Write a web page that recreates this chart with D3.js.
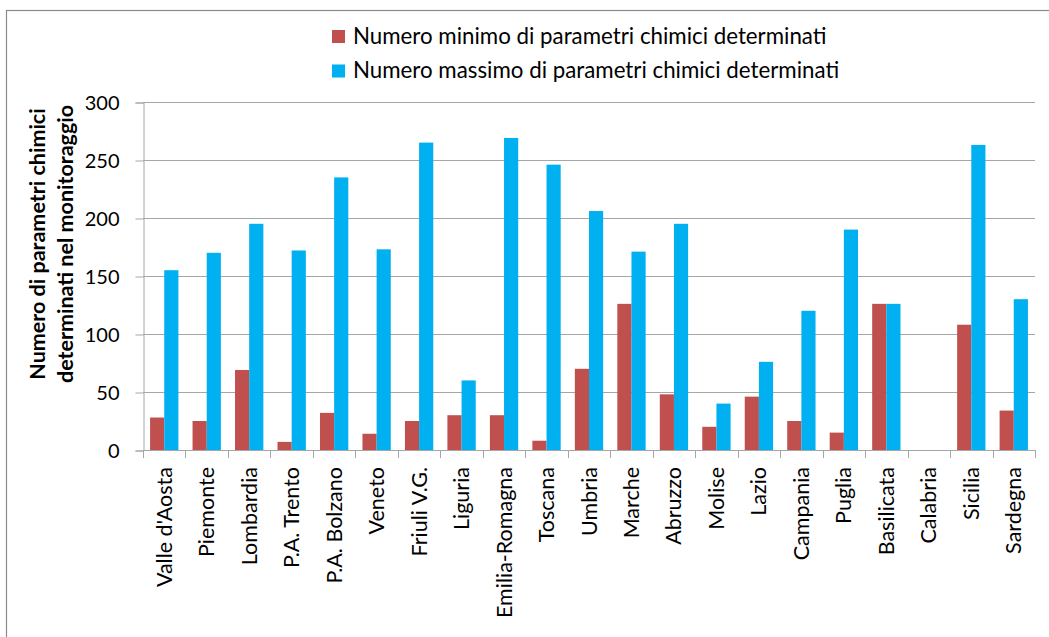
<!DOCTYPE html>
<html>
<head>
<meta charset="utf-8">
<script src="https://cdn.jsdelivr.net/npm/d3@7"></script>
<style>
  body { margin: 0; background: #fff; }
  text { font-family: Lato, "Open Sans", sans-serif; fill: #000; }
</style>
</head>
<body>
<script>
// regioni
var regioni = ["Valle d'Aosta", "Piemonte", "Lombardia", "P.A. Trento", "P.A. Bolzano", "Veneto",
  "Friuli V.G.", "Liguria", "Emilia-Romagna", "Toscana", "Umbria", "Marche", "Abruzzo", "Molise",
  "Lazio", "Campania", "Puglia", "Basilicata", "Calabria", "Sicilia", "Sardegna"];

var minimo = [28, 25, 69, 7, 32, 14, 25, 30, 30, 8, 70, 126, 48, 20, 46, 25, 15, 126, 0, 108, 34];
var massimo = [155, 170, 195, 172, 235, 173, 265, 60, 269, 246, 206, 171, 195, 40, 76, 120, 190, 126, 0, 263, 130];

var serie = ["Numero minimo di parametri chimici determinati", "Numero massimo di parametri chimici determinati"];
var colori = ["#C0504D", "#00B0F0"];
var yTicks = [0, 50, 100, 150, 200, 250, 300];

var W = 1049, H = 637;
var plot = { left: 143, right: 1035, top: 102, bottom: 450 };

var svg = d3.select("body").append("svg")
  .attr("width", W)
  .attr("height", H);

svg.append("rect").attr("width", W).attr("height", H).attr("fill", "#fff");

// cornice del grafico
svg.append("rect")
  .attr("x", 6.5).attr("y", 10.5)
  .attr("width", W + 20).attr("height", H + 20)
  .attr("fill", "none")
  .attr("stroke", "#8c8c8c")
  .attr("stroke-width", 1.2);

var x = d3.scaleBand()
  .domain(regioni)
  .range([plot.left, plot.right])
  .paddingInner(1 / 3)
  .paddingOuter(1 / 6);

var x1 = d3.scaleBand()
  .domain([0, 1])
  .range([0, x.bandwidth()]);

var y = d3.scaleLinear()
  .domain([0, 300])
  .range([plot.bottom, plot.top]);

// griglia
svg.append("g")
  .selectAll("line")
  .data(yTicks.slice(1))
  .enter()
    .append("line")
    .attr("x1", plot.left).attr("x2", plot.right)
    .attr("y1", d => Math.round(y(d)) + 0.5)
    .attr("y2", d => Math.round(y(d)) + 0.5)
    .attr("stroke", "#a6a6a6")
    .attr("stroke-width", 1);

// asse y
var yAxis = svg.append("g")
  .attr("transform", "translate(" + (plot.left + 0.5) + ",0.5)")
  .call(d3.axisLeft(y).tickValues(yTicks).tickSize(8).tickPadding(16));

yAxis.select(".domain").attr("stroke", "#a6a6a6");
yAxis.selectAll(".tick line").attr("stroke", "#a6a6a6");
yAxis.selectAll(".tick text")
  .attr("font-size", 20)
  .attr("font-family", "Lato, sans-serif")
  .attr("dy", "0.35em");

// barre
var gruppi = svg.append("g")
  .selectAll("g")
  .data(regioni)
  .enter()
    .append("g")
    .attr("transform", d => "translate(" + x(d) + ",0)");

gruppi.selectAll("rect")
  .data((d, i) => [minimo[i], massimo[i]])
  .enter()
    .append("rect")
    .attr("x", (d, j) => x1(j))
    .attr("width", x1.bandwidth())
    .attr("y", d => y(d))
    .attr("height", d => y(0) - y(d))
    .attr("fill", (d, j) => colori[j]);

// asse x
var step = x.step();
var bordi = d3.range(regioni.length + 1).map(i => plot.left + i * step);

svg.append("line")
  .attr("x1", plot.left).attr("x2", plot.right)
  .attr("y1", plot.bottom + 0.5).attr("y2", plot.bottom + 0.5)
  .attr("stroke", "#a6a6a6");

svg.append("g")
  .selectAll("line")
  .data(bordi)
  .enter()
    .append("line")
    .attr("x1", d => Math.round(d) + 0.5).attr("x2", d => Math.round(d) + 0.5)
    .attr("y1", plot.bottom).attr("y2", plot.bottom + 8)
    .attr("stroke", "#a6a6a6");

svg.append("g")
  .selectAll("text")
  .data(regioni)
  .enter()
    .append("text")
    .attr("transform", d => "translate(" + (x(d) + x.bandwidth() / 2 + 7.5) + "," + (plot.bottom + 17) + ") rotate(-90)")
    .attr("text-anchor", "end")
    .attr("font-size", 21.5)
    .text(d => d);

// titolo asse y
var titolo = svg.append("text")
  .attr("transform", "translate(45,244) rotate(-90)")
  .attr("text-anchor", "middle")
  .attr("font-size", 21.5)
  .attr("font-weight", "bold");

titolo.append("tspan").attr("x", 0).attr("dy", 0).text("Numero di parametri chimici");
titolo.append("tspan").attr("x", 0).attr("dy", 28).text("determinati nel monitoraggio");

// legenda
var legenda = svg.append("g")
  .selectAll("g")
  .data(serie)
  .enter()
    .append("g")
    .attr("transform", (d, i) => "translate(332," + (30 + i * 34.5) + ")");

legenda.append("rect")
  .attr("width", 13).attr("height", 13)
  .attr("fill", (d, i) => colori[i]);

legenda.append("text")
  .attr("x", 21).attr("y", 13.5)
  .attr("font-size", 22.3)
  .text(d => d);
</script>
</body>
</html>
